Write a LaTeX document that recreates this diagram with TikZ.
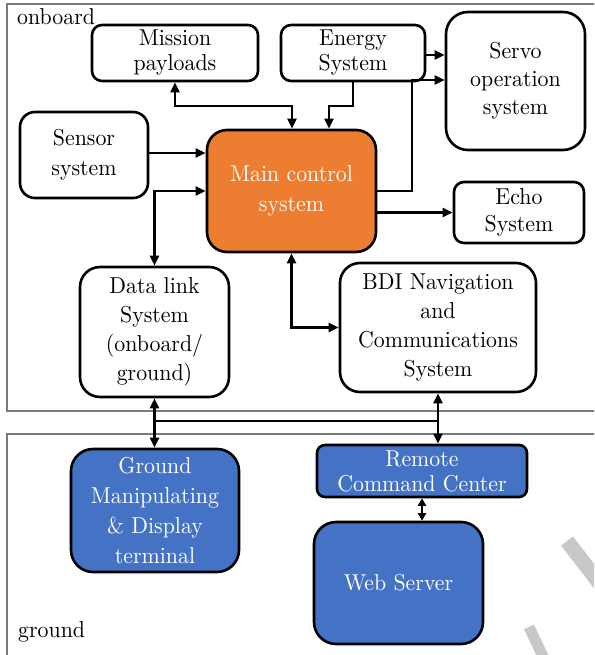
\documentclass[tikz,border=0pt]{standalone}
\usepackage{fontspec}
\setmainfont{lmroman10-regular.otf}[FakeStretch=0.95]
\usetikzlibrary{arrows.meta}
\definecolor{mainorange}{HTML}{ED7D31}
\definecolor{gndblue}{HTML}{4472C4}
\definecolor{framegray}{HTML}{7A7A7A}
\definecolor{markgray}{HTML}{C8C8C8}

\begin{document}
\begin{tikzpicture}[x=1pt,y=-1pt,
  box/.style={draw=black, line width=2.6pt, rounded corners=#1, align=center,
              inner sep=0pt, fill=white, text=black},
  box/.default=10pt,
  orangebox/.style={box=#1, fill=mainorange, text=white},
  bluebox/.style={box=#1, fill=gndblue, text=white},
  ls/.style={font=\rmfamily\fontsize{23}{#1}\selectfont},
  frame/.style={draw=framegray, line width=1.6pt},
  tip/.tip={Triangle[length=10pt,width=9pt]},
  smalltip/.tip={Triangle[length=7.5pt,width=8pt]},
  arr/.style={line width=2.4pt, -tip},
  biarr/.style={line width=2.4pt, tip-tip},
  smallbiarr/.style={line width=2.4pt, smalltip-smalltip},
  bus/.style={line width=2.4pt},
]
\clip (0,0) rectangle (594,655);
\fill[white] (0,0) rectangle (594,655);

% the two zones
\draw[frame] (7,4) rectangle (620,411);
\draw[frame] (7,434) rectangle (620,690);

% faint grey marks at the lower right
\draw[markgray, line width=15pt] (567,541) -- (618,607);
\draw[markgray, line width=11pt] (529,627) -- (547,665);

% onboard units
\node[box=10pt, ls=25, minimum width=166pt, minimum height=56pt] (mission) at (175,53) {Mission\\payloads};
\node[box=10pt, ls=25, minimum width=144pt, minimum height=56pt] (energy) at (353,53) {Energy\\System};
\node[box=22pt, ls=28, minimum width=139pt, minimum height=138pt] (servo) at (515.5,81) {Servo\\operation\\system};
\node[box=15pt, ls=30, minimum width=128pt, minimum height=86pt] (sensor) at (84,155) {Sensor\\system};
\node[orangebox=20pt, ls=30, minimum width=169pt, minimum height=122pt] (main) at (291.5,191) {Main control\\system};
\node[box=10pt, ls=27, minimum width=130pt, minimum height=61pt] (echo) at (519,212.5) {Echo\\System};
\node[box=20pt, ls=29, minimum width=149pt, minimum height=130pt] (datalink) at (154.5,332) {Data link\\System\\(onboard/\\ground)};
\node[box=20pt, ls=29, minimum width=196pt, minimum height=129pt] (bdi) at (438,327.5) {BDI Navigation\\and\\Communications\\System};

% ground units
\node[bluebox=22pt, ls=30, minimum width=168pt, minimum height=123pt] (gnd) at (155,510.5) {Ground\\Manipulating\\\& Display\\terminal};
\node[bluebox=8pt, ls=25, minimum width=210pt, minimum height=52pt] (remote) at (422,471) {Remote\\Command Center};
\node[bluebox=22pt, ls=25, minimum width=169pt, minimum height=122pt] (web) at (398.5,583) {Web Server};

% zone labels
\node[anchor=base west, inner sep=0pt, ls=25] (lonboard) at (17,25) {onboard};
\node[anchor=base west, inner sep=0pt, ls=25] (lground) at (18,637) {ground};

% waypoints
\coordinate (mm) at (292,106);
\coordinate (em) at (329,106);
\coordinate (ms) at (412,80);
\coordinate (buslevel) at (0,421);

% connectors
\draw[biarr] (mission.south) |- (mm) -- (mm |- main.north);
\draw[arr] (energy.south) |- (em) -- (em |- main.north);
\draw[arr] ([yshift=-2pt]energy.east) -- ([yshift=-2pt]energy.east -| servo.west);
\draw[arr] (main.east) -| (ms) -- (ms -| servo.west);
\draw[arr] ([yshift=2pt]sensor.east) -- ([yshift=2pt]sensor.east -| main.west);
\draw[biarr] (datalink.north) |- (main.west);
\draw[arr] (echo.west -| main.east) -- (echo.west);
\draw[biarr] (main.south) |- (bdi.west);
\draw[biarr] (datalink.south) -- (datalink.south |- gnd.north);
\draw[biarr] (bdi.south) -- (bdi.south |- remote.north);
\draw[bus] (datalink.south |- buslevel) -- (bdi.south |- buslevel);
\draw[smallbiarr] (remote.south) -- (remote.south |- web.north);
\end{tikzpicture}
\end{document}
